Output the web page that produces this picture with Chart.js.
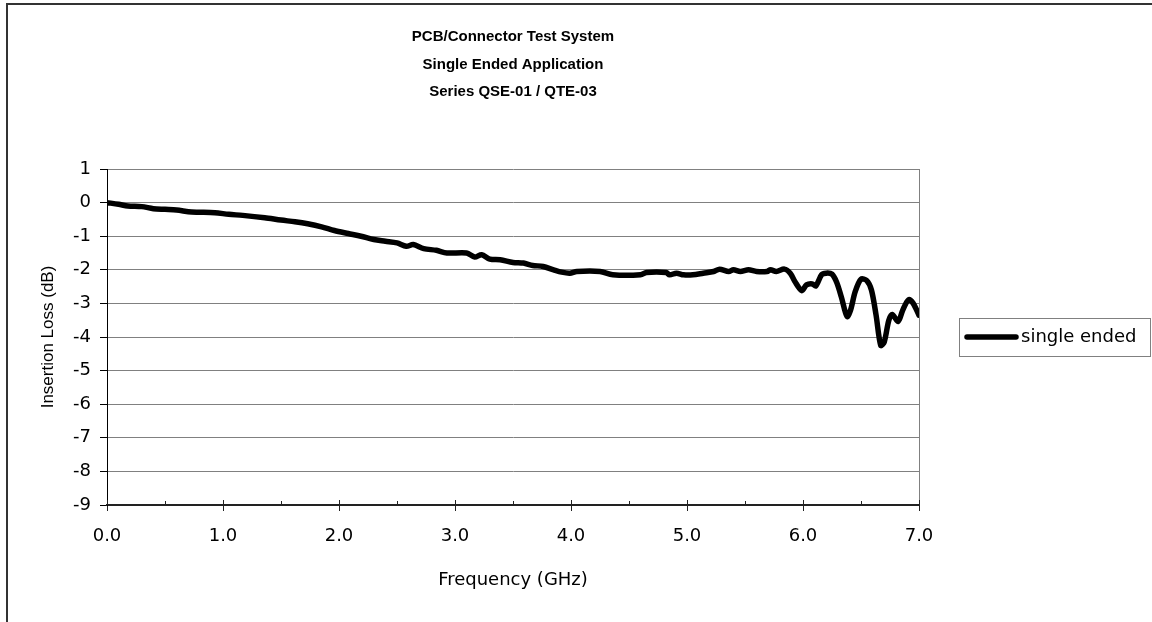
<!DOCTYPE html>
<html>
<head>
<meta charset="utf-8">
<title>PCB/Connector Test System</title>
<script src="https://cdn.jsdelivr.net/npm/chart.js@4/dist/chart.umd.min.js"></script>
<style>
  html, body { margin: 0; padding: 0; background: #fff; }
  canvas { display: block; }
</style>
</head>
<body>
<canvas id="chart" width="1152" height="622"></canvas>
<script>
// values
const titleLines = ["PCB/Connector Test System", "Single Ended Application", "Series QSE-01 / QTE-03"];
const seriesName = "single ended";
const xTitle = "Frequency (GHz)";
const yTitle = "Insertion Loss (dB)";

const freqGHz = [
  0.00, 0.10, 0.18, 0.30, 0.40, 0.50, 0.60, 0.73, 0.93, 1.05,
  1.17, 1.36, 1.50, 1.62, 1.73, 1.85, 1.96, 2.08, 2.19, 2.30,
  2.40, 2.50, 2.58, 2.64, 2.73, 2.84, 2.93, 3.10, 3.17, 3.23,
  3.30, 3.39, 3.50, 3.59, 3.67, 3.76, 3.85, 3.92, 3.99, 4.05,
  4.25, 4.36, 4.60, 4.65, 4.82, 4.85, 4.91, 4.97, 5.05, 5.14,
  5.23, 5.28, 5.36, 5.40, 5.46, 5.53, 5.60, 5.69, 5.72, 5.77,
  5.84, 5.89, 5.93, 5.99, 6.03, 6.08, 6.11, 6.16, 6.20, 6.25,
  6.29, 6.33, 6.38, 6.41, 6.45, 6.50, 6.55, 6.59, 6.63, 6.67,
  6.70, 6.74, 6.77, 6.82, 6.86, 6.91, 6.95, 7.00
];
const lossDb = [
  0.00, -0.05, -0.10, -0.12, -0.18, -0.20, -0.22, -0.28, -0.30, -0.35,
  -0.38, -0.45, -0.52, -0.57, -0.63, -0.72, -0.83, -0.92, -1.00, -1.10,
  -1.15, -1.20, -1.30, -1.25, -1.37, -1.42, -1.50, -1.50, -1.62, -1.55,
  -1.68, -1.70, -1.78, -1.80, -1.87, -1.90, -2.00, -2.07, -2.10, -2.05,
  -2.05, -2.15, -2.15, -2.08, -2.08, -2.15, -2.10, -2.15, -2.15, -2.10,
  -2.05, -1.98, -2.05, -2.00, -2.05, -2.00, -2.05, -2.05, -2.00, -2.05,
  -1.98, -2.10, -2.35, -2.62, -2.45, -2.42, -2.48, -2.15, -2.10, -2.13,
  -2.37, -2.80, -3.39, -3.20, -2.65, -2.28, -2.32, -2.60, -3.35, -4.25,
  -4.15, -3.50, -3.33, -3.54, -3.20, -2.89, -3.00, -3.35
];

const xMin = 0, xMax = 7;
const yMin = -9, yMax = 1;

const SANS = "'Liberation Sans', Arial, sans-serif";
const WIDE = "'DejaVu Sans', sans-serif";

const points = freqGHz.map((f, i) => ({ x: f, y: lossDb[i] }));

const extras = {
  id: "extras",
  beforeDraw(chart) {
    // white page, outer frame (only left and top edges show)
    const c = chart.ctx;
    c.save();
    c.fillStyle = "#fff";
    c.fillRect(0, 0, chart.width, chart.height);
    c.strokeStyle = "#333";
    c.lineWidth = 2;
    c.beginPath();
    c.moveTo(7, chart.height);
    c.lineTo(7, 4);
    c.lineTo(chart.width, 4);
    c.stroke();
    c.restore();
  },
  afterDatasetsDraw(chart) {
    // right edge of plot area, and the small x ticks above the axis
    const c = chart.ctx;
    const a = chart.chartArea;
    const xs = chart.scales.x;
    c.save();
    c.strokeStyle = "#808080";
    c.lineWidth = 1;
    c.beginPath();
    c.moveTo(a.right + 0.5, a.top);
    c.lineTo(a.right + 0.5, a.bottom);
    c.stroke();
    c.strokeStyle = "#222";
    c.beginPath();
    for (let v = xs.min; v <= xs.max + 1e-9; v += 0.5) {
      const px = Math.round(xs.getPixelForValue(v)) + 0.5;
      c.moveTo(px, a.bottom);
      c.lineTo(px, a.bottom - (Number.isInteger(v) ? 5 : 4));
    }
    c.stroke();
    c.restore();
  },
  afterDraw(chart) {
    const c = chart.ctx;
    const a = chart.chartArea;
    const ds = chart.data.datasets[0];
    c.save();
    // title, centred over the plot area
    c.fillStyle = "#000";
    c.font = "bold 15px " + SANS;
    c.textAlign = "center";
    c.textBaseline = "middle";
    const cx = (a.left + a.right) / 2;
    titleLines.forEach((t, i) => c.fillText(t, cx, 37 + i * 27.5));
    // boxed legend to the right of the plot
    const cy = (a.top + a.bottom) / 2;
    const bx = a.right + 40, bw = 191, bh = 38;
    c.strokeStyle = "#808080";
    c.lineWidth = 1;
    c.strokeRect(bx + 0.5, Math.round(cy - bh / 2) + 0.5, bw, bh);
    c.strokeStyle = ds.borderColor;
    c.lineWidth = ds.borderWidth;
    c.lineCap = "round";
    c.beginPath();
    c.moveTo(bx + 8, cy);
    c.lineTo(bx + 57, cy);
    c.stroke();
    c.font = "18px " + WIDE;
    c.textAlign = "left";
    c.fillText(ds.label, bx + 62, cy);
    c.restore();
  }
};

new Chart(document.getElementById("chart"), {
  type: "line",
  data: {
    datasets: [{
      label: seriesName,
      data: points,
      borderColor: "#000",
      borderWidth: 5.5,
      pointRadius: 0,
      tension: 0.3,
      borderJoinStyle: "round",
      borderCapStyle: "round",
      fill: false
    }]
  },
  options: {
    responsive: false,
    animation: false,
    events: [],
    layout: { padding: { left: 0, right: 233, top: 169, bottom: 0 } },
    plugins: {
      legend: { display: false },
      tooltip: { enabled: false },
      title: { display: false }
    },
    scales: {
      x: {
        type: "linear",
        min: xMin,
        max: xMax,
        afterFit(s) { s.height = 117; },
        border: { display: true, color: "#222", width: 2 },
        grid: { drawOnChartArea: false, drawTicks: true, tickLength: 6, color: "#222" },
        ticks: {
          stepSize: 1,
          padding: 15,
          color: "#000",
          font: { family: WIDE, size: 18 },
          maxRotation: 0,
          callback: (v) => Number(v).toFixed(1)
        },
        title: {
          display: true,
          text: xTitle,
          color: "#000",
          font: { family: WIDE, size: 18 },
          padding: { top: 0, bottom: 31 }
        }
      },
      y: {
        min: yMin,
        max: yMax,
        afterFit(s) { s.width = 107; },
        border: { display: true, color: "#000", width: 1 },
        grid: { color: "#808080", lineWidth: 1, tickLength: 7, tickColor: "#000" },
        ticks: {
          stepSize: 1,
          padding: 9,
          color: "#000",
          font: { family: WIDE, size: 18 }
        },
        title: {
          display: true,
          text: yTitle,
          color: "#000",
          font: { family: SANS, size: 17 },
          padding: { top: 38, bottom: 0 }
        }
      }
    }
  },
  plugins: [extras]
});
</script>
</body>
</html>
